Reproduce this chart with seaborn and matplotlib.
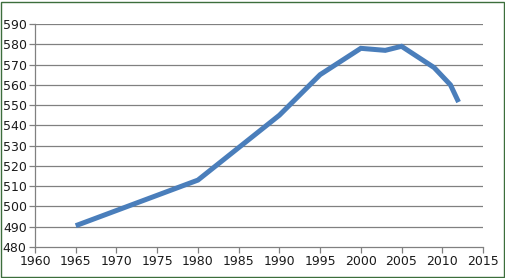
import matplotlib
matplotlib.use("Agg")
import matplotlib.pyplot as plt
import seaborn as sns
import pandas as pd
from matplotlib.patches import Rectangle

years = [1965, 1970, 1975, 1980, 1985, 1990, 1995, 2000, 2003, 2005, 2009, 2011, 2012]
values = [490.5, 498.0, 505.5, 513.0, 529.0, 545.0, 565.0, 578.0, 577.0, 579.0, 568.5, 560.0, 551.5]
x_ticks = list(range(1960, 2016, 5))
y_ticks = list(range(480, 591, 10))

df = pd.DataFrame({"year": years, "value": values})

sns.set_theme(style="white")
plt.rcParams['font.family'] = ['DejaVu Sans']

W, H = 506, 278
fig = plt.figure(figsize=(W / 100, H / 100), dpi=100)
ax = fig.add_axes([35 / W, (H - 247) / H, (483 - 35) / W, (247 - 24) / H])

sns.lineplot(data=df, x="year", y="value", ax=ax, color="#4A7EBB", linewidth=3.6,
             solid_capstyle="butt", solid_joinstyle="miter", zorder=3)

ax.set_xlim(1960, 2015)
ax.set_ylim(480, 590)
ax.set_xticks(x_ticks)
ax.set_yticks(y_ticks)
ax.set_xticklabels([str(t) for t in x_ticks], fontsize=9, color="#1a1a1a")
ax.set_yticklabels([str(t) for t in y_ticks], fontsize=9, color="#1a1a1a")
ax.set_xlabel("")
ax.set_ylabel("")

for y in y_ticks[1:]:
    ax.axhline(y, color="#808080", linewidth=0.9, zorder=1)

for s in ["top", "right"]:
    ax.spines[s].set_visible(False)
for s in ["left", "bottom"]:
    ax.spines[s].set_color("#808080")
    ax.spines[s].set_linewidth(0.9)

ax.tick_params(axis="both", which="major", length=4, width=0.9, color="#808080",
               direction="out", pad=2, bottom=True, left=True)
ax.grid(False)

fig.patches.append(Rectangle((1.5 / W, 1.5 / H), (W - 3.5) / W, (H - 3.5) / H,
                             transform=fig.transFigure, fill=False,
                             edgecolor="#3C6E3C", linewidth=1.0))

fig.savefig("out.png", dpi=100)
